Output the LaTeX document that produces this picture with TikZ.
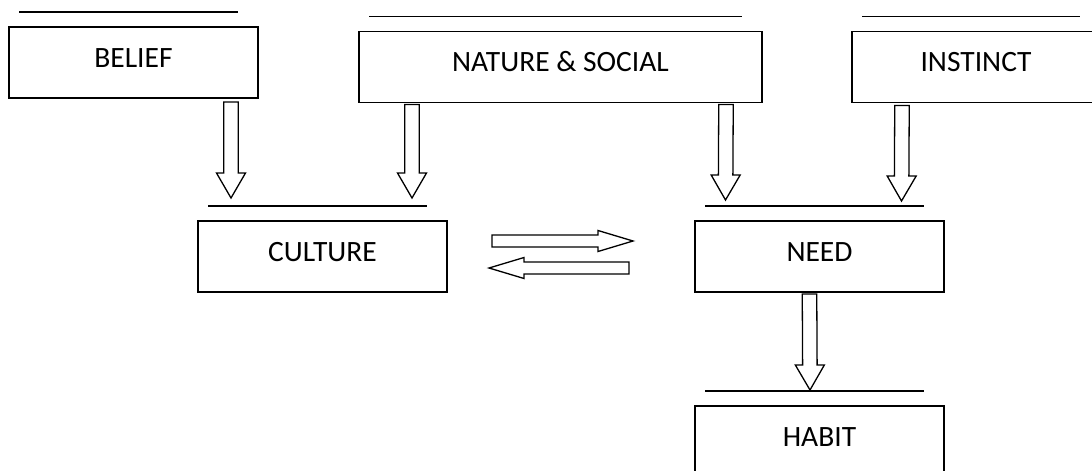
\documentclass[tikz,border=0pt]{standalone}
\usepackage{fontspec}
\setmainfont{Carlito}
\usetikzlibrary{positioning,calc}
\tikzset{box node/.style={rectangle,draw,line width=1.6pt,outer sep=0pt,minimum width=249pt,minimum height=71pt,inner sep=0pt,text height=18.8pt,text depth=9.5pt,font=\fontsize{29.5}{35}\selectfont},
  fat arrow/.style n args={3}{draw,line width=1.3pt,line join=miter,to path={
    ($(\tikztostart)!#1pt!90:(\tikztotarget)$)
    -- ($($(\tikztotarget)!#3pt!(\tikztostart)$)!#1pt!90:(\tikztotarget)$)
    -- ($($(\tikztotarget)!#3pt!(\tikztostart)$)!#2pt!90:(\tikztotarget)$)
    -- (\tikztotarget)
    -- ($($(\tikztotarget)!#3pt!(\tikztostart)$)!#2pt!-90:(\tikztotarget)$)
    -- ($($(\tikztotarget)!#3pt!(\tikztostart)$)!#1pt!-90:(\tikztotarget)$)
    -- ($(\tikztostart)!#1pt!-90:(\tikztotarget)$)
    -- cycle}},
  vblock/.style={fat arrow={7.25}{14.5}{25}},
  hblock/.style={fat arrow={6}{10.5}{35}},
}

\begin{document}
\begin{tikzpicture}[x=1pt,y=-1pt]
	\useasboundingbox (0,0) rectangle (1092,471);
	\node[box node] (belief) at (133.5,62.5) {BELIEF};
	\node[box node,minimum width=403pt] (nature) [right=101pt of belief,yshift=-4.5pt] {NATURE \& SOCIAL};
	\node[box node,minimum width=248pt] (instinct) [right=90pt of nature] {INSTINCT};
	\node[box node] (culture) [below=123pt of belief,xshift=189pt] {CULTURE};
	\node[box node] (need) [right=248pt of culture] {NEED};
	\node[box node] (habit) [below=114pt of need] {HABIT};
	
	% lines over the boxes
	\foreach \n in {belief,nature,instinct,culture,need,habit}
		\draw[line width=1.5pt] ([xshift=10pt,yshift=15pt]\n.north west) -- ([xshift=-20pt,yshift=15pt]\n.north east);
	
	\path
	([xshift=97.5pt,yshift=-4pt]belief.south) edge[vblock] ([xshift=-91.5pt,yshift=23pt]culture.north)
	([xshift=-148.5pt,yshift=-2pt]nature.south) edge[vblock] ([xshift=89.5pt,yshift=23pt]culture.north)
	([xshift=165.5pt,yshift=-2pt]nature.south) edge[vblock] ([xshift=-94pt,yshift=21pt]need.north)
	([xshift=-74pt,yshift=-3pt]instinct.south) edge[vblock] ([xshift=82pt,yshift=20pt]need.north)
	([xshift=-10pt,yshift=-2pt]need.south) edge[vblock] ([xshift=-9.5pt,yshift=16pt]habit.north)
	([xshift=45pt,yshift=15.5pt]culture.east) edge[hblock] ([xshift=-62pt,yshift=15.5pt]need.west)
	([xshift=-66pt,yshift=-11.5pt]need.west) edge[hblock] ([xshift=42pt,yshift=-11.5pt]culture.east);
	
\end{tikzpicture}
\end{document}
